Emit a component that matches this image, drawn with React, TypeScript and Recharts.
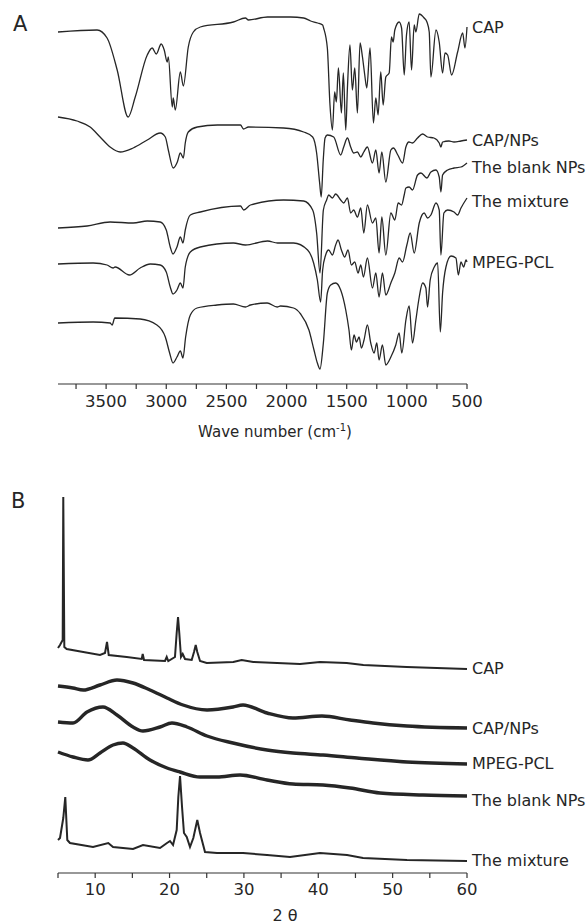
import React from "react";
import { LineChart, Line, XAxis, YAxis, ReferenceDot } from "recharts";

// ---- Panel A: FTIR spectra, [wave number (cm-1), transmittance (a.u., stacked)] ----
const irCap = [
  [3900, 352], [3575, 354], [3492, 346], [3408, 314], [3317, 267], [3258, 287], [3158, 329], [3117, 336],
  [3083, 330], [3042, 340], [3017, 334], [2992, 322], [2983, 327], [2950, 277], [2942, 286], [2925, 274],
  [2883, 312], [2858, 298], [2817, 337], [2775, 352], [2717, 357], [2442, 362], [2342, 366], [2317, 364],
  [2158, 367], [1967, 367], [1858, 366], [1800, 363], [1742, 361], [1700, 359], [1692, 356], [1661, 336],
  [1639, 279], [1619, 254], [1600, 292], [1586, 282], [1569, 316], [1544, 271], [1528, 311], [1508, 254],
  [1494, 296], [1473, 339], [1453, 294], [1433, 316], [1411, 271], [1389, 341], [1369, 327], [1350, 309],
  [1333, 296], [1306, 336], [1278, 261], [1258, 286], [1239, 269], [1217, 312], [1197, 279], [1175, 307],
  [1147, 311], [1128, 347], [1114, 342], [1100, 354], [1064, 362], [1044, 356], [1022, 309], [1003, 349],
  [981, 362], [961, 314], [939, 359], [925, 352], [897, 370], [856, 366], [833, 362], [814, 352],
  [800, 307], [758, 354], [731, 342], [703, 311], [683, 331], [661, 329], [628, 309], [578, 332],
  [536, 351], [517, 336], [500, 357],
];
const irCapNps = [
  [3900, 267], [3742, 263], [3633, 257], [3550, 247], [3467, 237], [3383, 232], [3275, 236], [3158, 244],
  [3050, 251], [3008, 247], [2983, 234], [2942, 216], [2908, 222], [2883, 231], [2858, 226], [2842, 241],
  [2817, 252], [2742, 257], [2575, 259], [2383, 259], [2358, 255], [2317, 257], [2025, 256], [1858, 252],
  [1783, 247], [1750, 231], [1725, 201], [1712, 187], [1695, 224], [1680, 246], [1661, 249], [1608, 247],
  [1550, 229], [1525, 237], [1494, 246], [1467, 237], [1442, 231], [1411, 232], [1383, 227], [1358, 232],
  [1328, 237], [1286, 221], [1258, 234], [1231, 211], [1208, 232], [1175, 202], [1133, 234], [1111, 236],
  [1075, 229], [1036, 221], [1008, 237], [983, 242], [953, 241], [911, 246], [869, 250], [828, 247],
  [775, 246], [731, 241], [717, 237], [703, 242], [650, 243], [608, 242], [550, 243], [500, 244],
];
const irBlank = [
  [3900, 156], [3658, 158], [3467, 162], [3275, 161], [3158, 163], [3050, 162], [3000, 154], [2967, 137],
  [2944, 130], [2911, 137], [2883, 147], [2861, 141], [2842, 154], [2800, 169], [2717, 172], [2383, 178],
  [2356, 174], [2300, 179], [2025, 184], [1858, 183], [1783, 174], [1750, 151], [1722, 111], [1694, 174],
  [1667, 184], [1650, 189], [1619, 186], [1592, 190], [1550, 184], [1525, 181], [1494, 186], [1467, 171],
  [1442, 174], [1411, 167], [1383, 176], [1358, 151], [1328, 179], [1286, 161], [1258, 166], [1231, 131],
  [1208, 167], [1175, 129], [1133, 171], [1100, 164], [1072, 181], [1044, 179], [1022, 189], [1008, 196],
  [981, 197], [953, 194], [911, 209], [883, 211], [833, 206], [800, 212], [758, 214], [731, 207],
  [717, 192], [703, 209], [661, 214], [608, 216], [550, 217], [500, 221],
];
const irMixture = [
  [3900, 120], [3608, 121], [3492, 119], [3442, 116], [3425, 117], [3306, 109], [3217, 116], [3133, 120],
  [3050, 119], [3000, 112], [2967, 97], [2944, 90], [2911, 94], [2883, 101], [2861, 96], [2842, 117],
  [2800, 132], [2717, 137], [2442, 141], [2342, 139], [2158, 143], [2075, 141], [1942, 141], [1825, 134],
  [1775, 121], [1744, 104], [1717, 82], [1700, 114], [1675, 129], [1650, 134], [1619, 129], [1592, 139],
  [1572, 144], [1544, 134], [1517, 127], [1489, 134], [1461, 119], [1433, 122], [1406, 111], [1383, 119],
  [1361, 107], [1328, 126], [1286, 96], [1258, 111], [1231, 87], [1203, 111], [1175, 89], [1133, 101],
  [1100, 111], [1064, 126], [1036, 122], [1000, 139], [972, 151], [939, 131], [897, 161], [856, 171],
  [828, 166], [800, 169], [758, 181], [731, 174], [717, 129], [692, 171], [661, 174], [608, 172],
  [578, 169], [550, 176], [500, 186],
];
const irMpegPcl = [
  [3900, 61], [3608, 62], [3467, 61], [3450, 59], [3428, 66], [3217, 65], [3078, 59], [3008, 47],
  [2972, 31], [2944, 21], [2911, 27], [2883, 33], [2861, 26], [2839, 47], [2800, 69], [2744, 76],
  [2578, 79], [2442, 80], [2342, 77], [2300, 79], [2161, 81], [2078, 77], [2050, 78], [1942, 76],
  [1883, 70], [1814, 54], [1772, 34], [1744, 21], [1722, 15], [1694, 41], [1661, 91], [1633, 99],
  [1592, 101], [1550, 94], [1508, 74], [1481, 54], [1461, 34], [1439, 49], [1419, 42], [1397, 47],
  [1378, 36], [1356, 44], [1328, 59], [1300, 41], [1272, 31], [1250, 41], [1231, 24], [1203, 39],
  [1175, 19], [1133, 27], [1092, 39], [1064, 51], [1042, 31], [1008, 64], [981, 78], [953, 41],
  [925, 64], [897, 87], [869, 101], [842, 96], [828, 77], [806, 104], [772, 117], [744, 121],
  [722, 52], [703, 91], [675, 117], [633, 128], [592, 126], [572, 109], [550, 122], [528, 117],
  [508, 124], [500, 122],
];
const irTicks = [3750, 3500, 3250, 3000, 2750, 2500, 2250, 2000, 1750, 1500, 1250, 1000, 750, 500];

// ---- Panel B: XRD patterns, [2 theta (deg), intensity (a.u., stacked)] ----
const xrdCap = [
  [5.0, 225], [5.27, 228], [5.63, 233], [5.71, 376], [5.85, 226], [6.17, 224], [8.4, 221], [10.65, 218],
  [11.32, 220], [11.59, 231], [11.82, 218], [14.24, 216], [16.26, 214], [16.39, 219], [16.57, 213],
  [19.39, 212], [19.62, 216], [19.83, 212], [20.73, 216], [20.96, 240], [21.14, 256], [21.31, 240],
  [21.54, 216], [21.77, 219], [22.08, 214], [22.98, 213], [23.29, 221], [23.52, 228], [23.73, 221],
  [24.1, 212], [25.0, 210], [28.57, 211], [29.7, 213], [31.26, 211], [37.55, 209], [40.23, 211],
  [43.82, 210], [46.06, 208], [51.89, 206], [60, 204],
];
const xrdCapNps = [
  [5, 187], [7, 185], [8.4, 183], [10.65, 188], [12.93, 193], [15.09, 190], [17.37, 183], [19.66, 175],
  [21.81, 168], [25.04, 163], [28.53, 166], [29.88, 168], [33.11, 160], [36.6, 155], [40.5, 157],
  [44.27, 153], [47.36, 150], [51.93, 147], [60, 145],
];
const xrdMpegPcl = [
  [5, 151], [7.02, 150], [8.9, 161], [11.05, 166], [12.93, 158], [15.09, 146], [16.43, 142], [18.72, 146],
  [20.33, 150], [22.35, 146], [25.04, 137], [28.53, 130], [33.11, 123], [36.6, 120], [40.64, 118],
  [45.21, 115], [51.93, 111], [60, 109],
];
const xrdBlank = [
  [5, 121], [7.02, 116], [9.03, 113], [10.65, 120], [12.4, 128], [13.74, 130], [15.09, 125], [17.37, 113],
  [19.66, 105], [21.41, 101], [24.1, 96], [26.38, 96], [29.48, 98], [33.11, 93], [36.6, 89], [40.64, 88],
  [44.27, 85], [48.3, 80], [54.09, 78], [60, 77],
];
const xrdMixture = [
  [5, 33], [5.27, 35], [5.71, 55], [5.98, 76], [6.25, 33], [6.61, 30], [9.71, 26], [11.76, 30], [12.4, 26],
  [15.09, 24], [16.43, 28], [18.72, 25], [19.66, 30], [20.06, 32], [20.47, 28], [20.96, 43], [21.18, 76],
  [21.41, 97], [21.68, 66], [21.94, 40], [22.31, 36], [22.75, 26], [23.2, 35], [23.73, 53], [24.1, 40],
  [24.77, 21], [26.38, 20], [29.88, 20], [33.11, 18], [36.2, 16], [40.23, 20], [43.87, 18], [46.02, 15],
  [51.93, 13], [60, 12],
];
const xrdTicks = [5, 10, 15, 20, 25, 30, 35, 40, 45, 50, 55, 60];

const toRows = (pts: number[][]) => pts.map(([x, y]) => ({ x, y }));

const INK = "#262626";
const FONT = "DejaVu Sans";

const irSeries = [
  { name: "CAP", pts: irCap, dy: 0 },
  { name: "CAP/NPs", pts: irCapNps, dy: 0 },
  { name: "The blank NPs", pts: irBlank, dy: 4 },
  { name: "The mixture", pts: irMixture, dy: 3 },
  { name: "MPEG-PCL", pts: irMpegPcl, dy: 0 },
];
const xrdSeries = [
  { name: "CAP", pts: xrdCap, dy: -1, w: 2, curve: "linear" },
  { name: "CAP/NPs", pts: xrdCapNps, dy: 0, w: 3.4, curve: "monotone" },
  { name: "MPEG-PCL", pts: xrdMpegPcl, dy: -1, w: 3.4, curve: "monotone" },
  { name: "The blank NPs", pts: xrdBlank, dy: 4, w: 3.4, curve: "monotone" },
  { name: "The mixture", pts: xrdMixture, dy: -1, w: 2, curve: "linear" },
];

const tickStyle = { fill: INK, fontSize: 16.5, fontFamily: FONT };
const axisStroke = { stroke: "#333", strokeWidth: 1.2 };

function endLabel(name: string, dy: number) {
  return {
    value: name,
    position: "right" as const,
    offset: 5,
    dy,
    fill: INK,
    fontSize: 16,
    fontFamily: FONT,
  };
}

export default function App() {
  return (
    <div style={{ position: "absolute", left: 0, top: 0, width: 587, height: 924, background: "#fff" }}>
      <div style={{ position: "absolute", left: 0, top: 0 }}>
        <LineChart width={587} height={460} margin={{ top: 10, right: 120, bottom: 0, left: 58 }}>
          <XAxis
            type="number"
            dataKey="x"
            domain={[500, 3900]}
            reversed
            ticks={irTicks}
            interval={0}
            tickFormatter={(v: number) => (v % 500 === 0 ? String(v) : "")}
            height={76}
            tickSize={5}
            tickMargin={6}
            tick={tickStyle}
            axisLine={axisStroke}
            tickLine={axisStroke}
          />
          <YAxis type="number" domain={[0, 374]} hide width={0} />
          {irSeries.map((s) => (
            <Line
              key={s.name}
              data={toRows(s.pts)}
              dataKey="y"
              type="monotone"
              stroke={INK}
              strokeWidth={1.3}
              dot={false}
              isAnimationActive={false}
            />
          ))}
          {irSeries.map((s) => {
            const last = s.pts[s.pts.length - 1];
            return (
              <ReferenceDot
                key={"l" + s.name}
                x={last[0]}
                y={last[1]}
                r={0}
                fill="none"
                stroke="none"
                label={endLabel(s.name, s.dy)}
              />
            );
          })}
          <text x={13} y={31} fontSize={21} fontFamily={FONT} fill={INK}>A</text>
          <text x={275} y={437} fontSize={15} fontFamily={FONT} fill={INK} textAnchor="middle">
            Wave number (cm<tspan dy={-6} fontSize={10}>-1</tspan>
            <tspan dy={6}>)</tspan>
          </text>
        </LineChart>
      </div>
      <div style={{ position: "absolute", left: 0, top: 460 }}>
        <LineChart width={587} height={464} margin={{ top: 33, right: 120, bottom: 0, left: 58 }}>
          <XAxis
            type="number"
            dataKey="x"
            domain={[5, 60]}
            ticks={xrdTicks}
            interval={0}
            tickFormatter={(v: number) => (v % 10 === 0 ? String(v) : "")}
            height={51}
            tickSize={5}
            tickMargin={5}
            tick={tickStyle}
            axisLine={axisStroke}
            tickLine={axisStroke}
          />
          <YAxis type="number" domain={[0, 380]} hide width={0} />
          {xrdSeries.map((s) => (
            <Line
              key={s.name}
              data={toRows(s.pts)}
              dataKey="y"
              type={s.curve as "linear" | "monotone"}
              stroke={INK}
              strokeWidth={s.w}
              dot={false}
              isAnimationActive={false}
            />
          ))}
          {xrdSeries.map((s) => {
            const last = s.pts[s.pts.length - 1];
            return (
              <ReferenceDot
                key={"l" + s.name}
                x={last[0]}
                y={last[1]}
                r={0}
                fill="none"
                stroke="none"
                label={endLabel(s.name, s.dy)}
              />
            );
          })}
          <text x={11} y={48} fontSize={21} fontFamily={FONT} fill={INK}>B</text>
          <text x={285} y={461} fontSize={16} fontFamily={FONT} fill={INK} textAnchor="middle">
            2 θ
          </text>
        </LineChart>
      </div>
    </div>
  );
}
